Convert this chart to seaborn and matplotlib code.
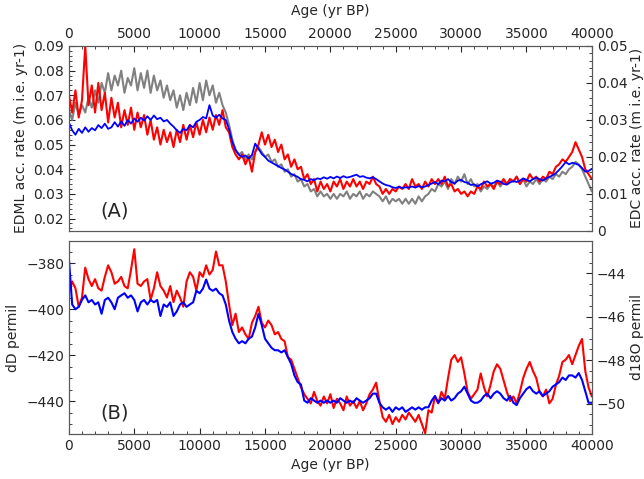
import numpy as np
import pandas as pd
import matplotlib
matplotlib.use('Agg')
import matplotlib.pyplot as plt
from matplotlib.ticker import AutoMinorLocator, MultipleLocator
import seaborn as sns

# ages in yr BP, 250 yr steps
age = np.arange(0, 40001, 250)

# EDML accumulation (left axis, m i.e. yr-1)
edml_acc = [
    0.070, 0.063, 0.072, 0.061, 0.068, 0.090, 0.066, 0.074,
    0.063, 0.075, 0.064, 0.071, 0.059, 0.069, 0.061, 0.067,
    0.057, 0.064, 0.058, 0.065, 0.056, 0.063, 0.057, 0.062,
    0.054, 0.060, 0.052, 0.057, 0.050, 0.056, 0.051, 0.055,
    0.049, 0.056, 0.051, 0.058, 0.052, 0.058, 0.053, 0.059,
    0.054, 0.060, 0.055, 0.061, 0.056, 0.062, 0.058, 0.064,
    0.057, 0.055, 0.049, 0.046, 0.044, 0.046, 0.042, 0.045,
    0.039, 0.047, 0.050, 0.055, 0.050, 0.054, 0.049, 0.052,
    0.047, 0.050, 0.044, 0.046, 0.041, 0.044, 0.040, 0.041,
    0.036, 0.038, 0.034, 0.036, 0.031, 0.035, 0.032, 0.034,
    0.031, 0.035, 0.033, 0.036, 0.032, 0.035, 0.033, 0.036,
    0.033, 0.035, 0.032, 0.035, 0.034, 0.037, 0.034, 0.033,
    0.030, 0.032, 0.030, 0.032, 0.031, 0.033, 0.032, 0.034,
    0.032, 0.036, 0.033, 0.034, 0.032, 0.035, 0.033, 0.036,
    0.034, 0.036, 0.034, 0.037, 0.033, 0.034, 0.031, 0.032,
    0.030, 0.031, 0.029, 0.031, 0.030, 0.033, 0.032, 0.035,
    0.033, 0.034, 0.032, 0.035, 0.034, 0.036, 0.034, 0.036,
    0.035, 0.037, 0.034, 0.036, 0.035, 0.038, 0.036, 0.037,
    0.035, 0.037, 0.036, 0.039, 0.038, 0.041, 0.042, 0.044,
    0.043, 0.045, 0.047, 0.051, 0.048, 0.045, 0.040, 0.038,
    0.036]

# second EDML accumulation record (grey, left axis)
edml_acc2 = [
    0.064, 0.060, 0.067, 0.062, 0.066, 0.063, 0.069, 0.065,
    0.072, 0.067, 0.075, 0.071, 0.079, 0.072, 0.078, 0.074,
    0.080, 0.071, 0.077, 0.074, 0.081, 0.072, 0.079, 0.073,
    0.080, 0.071, 0.078, 0.072, 0.076, 0.069, 0.074, 0.068,
    0.072, 0.065, 0.070, 0.064, 0.071, 0.066, 0.073, 0.067,
    0.075, 0.068, 0.076, 0.070, 0.074, 0.067, 0.071, 0.066,
    0.063, 0.058, 0.052, 0.048, 0.046, 0.047, 0.044, 0.046,
    0.044, 0.047, 0.049, 0.047, 0.045, 0.046, 0.043, 0.044,
    0.041, 0.042, 0.039, 0.040, 0.037, 0.038, 0.035, 0.036,
    0.033, 0.034, 0.031, 0.032, 0.029, 0.031, 0.029, 0.030,
    0.028, 0.030, 0.028, 0.030, 0.029, 0.031, 0.028, 0.030,
    0.029, 0.031, 0.028, 0.030, 0.029, 0.031, 0.030, 0.029,
    0.027, 0.029, 0.026, 0.028, 0.027, 0.028, 0.026, 0.028,
    0.026, 0.028, 0.026, 0.029, 0.027, 0.029, 0.030, 0.032,
    0.031, 0.034, 0.033, 0.035, 0.032, 0.036, 0.034, 0.037,
    0.035, 0.038, 0.034, 0.036, 0.033, 0.034, 0.031, 0.033,
    0.032, 0.034, 0.033, 0.035, 0.033, 0.035, 0.034, 0.036,
    0.035, 0.037, 0.034, 0.036, 0.033, 0.035, 0.034, 0.036,
    0.034, 0.036, 0.035, 0.037, 0.036, 0.038, 0.037, 0.039,
    0.038, 0.040, 0.041, 0.043, 0.042, 0.040, 0.037, 0.034,
    0.031]

# EDC accumulation (right axis)
edc_acc = [
    0.0293, 0.0272, 0.0260, 0.0276, 0.0265, 0.0280, 0.0268, 0.0278,
    0.0272, 0.0286, 0.0278, 0.0290, 0.0276, 0.0280, 0.0294, 0.0282,
    0.0296, 0.0284, 0.0300, 0.0290, 0.0304, 0.0295, 0.0306, 0.0298,
    0.0310, 0.0300, 0.0312, 0.0302, 0.0306, 0.0296, 0.0300, 0.0290,
    0.0282, 0.0272, 0.0265, 0.0276, 0.0272, 0.0286, 0.0280, 0.0295,
    0.0300, 0.0308, 0.0304, 0.0340, 0.0312, 0.0306, 0.0314, 0.0304,
    0.0300, 0.0275, 0.0240, 0.0218, 0.0206, 0.0200, 0.0204, 0.0196,
    0.0205, 0.0236, 0.0222, 0.0208, 0.0200, 0.0190, 0.0185, 0.0180,
    0.0175, 0.0170, 0.0166, 0.0160, 0.0154, 0.0150, 0.0146, 0.0140,
    0.0138, 0.0134, 0.0140, 0.0137, 0.0142, 0.0140, 0.0145, 0.0141,
    0.0146, 0.0142, 0.0147, 0.0143, 0.0148, 0.0144, 0.0146, 0.0149,
    0.0152, 0.0146, 0.0148, 0.0144, 0.0142, 0.0145, 0.0140, 0.0134,
    0.0128, 0.0124, 0.0122, 0.0118, 0.0116, 0.0119, 0.0116, 0.0118,
    0.0117, 0.0120, 0.0117, 0.0121, 0.0118, 0.0120, 0.0124, 0.0128,
    0.0132, 0.0126, 0.0136, 0.0134, 0.0140, 0.0132, 0.0128, 0.0136,
    0.0138, 0.0132, 0.0130, 0.0124, 0.0126, 0.0120, 0.0126, 0.0130,
    0.0134, 0.0128, 0.0130, 0.0136, 0.0133, 0.0127, 0.0125, 0.0131,
    0.0135, 0.0132, 0.0136, 0.0142, 0.0138, 0.0134, 0.0140, 0.0144,
    0.0140, 0.0136, 0.0142, 0.0146, 0.0150, 0.0156, 0.0165, 0.0175,
    0.0186, 0.0180, 0.0184, 0.0182, 0.0178, 0.0170, 0.0160, 0.0162,
    0.0168]

# dD (left axis, permil)
dD = [
    -393, -388, -391, -399, -395, -382, -387, -390,
    -387, -391, -392, -386, -381, -384, -389, -388,
    -386, -390, -391, -383, -374, -389, -390, -388,
    -387, -396, -391, -384, -390, -392, -395, -390,
    -397, -392, -395, -399, -388, -384, -386, -392,
    -384, -386, -381, -385, -383, -375, -381, -381,
    -388, -398, -407, -402, -410, -408, -411, -413,
    -406, -403, -399, -406, -408, -405, -407, -411,
    -410, -413, -414, -421, -422, -426, -430, -434,
    -437, -439, -441, -436, -440, -442, -438, -441,
    -437, -443, -439, -441, -444, -438, -442, -440,
    -443, -440, -444, -441, -437, -435, -432, -440,
    -447, -449, -446, -450, -447, -449, -446, -448,
    -445, -447, -449, -446, -450, -454, -444, -445,
    -438, -441, -436, -439, -430, -422, -420, -423,
    -421, -428, -436, -439, -437, -435, -428, -434,
    -438, -433, -427, -424, -426, -431, -436, -440,
    -438, -441, -436, -430, -426, -423, -427, -430,
    -436, -438, -435, -441, -439, -433, -429, -423,
    -422, -420, -424, -420, -416, -413, -427, -434,
    -438]

# d18O (right axis, permil)
d18O = [
    -43.33, -45.43, -45.65, -45.54, -45.22, -45.01, -45.33, -45.22,
    -45.43, -45.33, -45.86, -45.22, -45.12, -45.33, -45.65, -45.12,
    -45.01, -44.91, -45.12, -45.01, -45.22, -45.75, -45.33, -45.22,
    -45.43, -45.22, -45.33, -45.22, -45.96, -45.43, -45.54, -45.33,
    -45.96, -45.75, -45.43, -45.33, -45.54, -45.43, -45.33, -44.80,
    -44.91, -44.70, -44.28, -44.70, -44.80, -44.70, -44.91, -45.01,
    -45.43, -46.17, -46.70, -47.01, -47.22, -47.12, -47.22, -47.01,
    -46.91, -46.49, -45.86, -46.38, -47.01, -47.22, -47.43, -47.54,
    -47.54, -47.64, -47.54, -47.86, -48.17, -48.70, -49.01, -49.12,
    -49.86, -49.96, -49.75, -49.86, -49.96, -49.86, -49.96, -49.86,
    -49.96, -49.86, -49.96, -49.75, -49.86, -49.96, -49.86, -49.96,
    -49.75, -49.86, -49.96, -49.86, -49.75, -49.54, -49.54, -49.96,
    -50.17, -50.28, -50.17, -50.38, -50.17, -50.28, -50.17, -50.38,
    -50.28, -50.17, -50.28, -50.17, -50.28, -50.17, -50.17, -49.86,
    -49.65, -49.96, -49.75, -49.86, -49.65, -49.86, -49.75, -49.54,
    -49.43, -49.22, -49.54, -49.86, -49.96, -49.96, -49.86, -49.65,
    -49.54, -49.75, -49.54, -49.43, -49.54, -49.75, -49.86, -49.65,
    -49.96, -50.07, -49.75, -49.54, -49.33, -49.22, -49.43, -49.54,
    -49.43, -49.65, -49.54, -49.43, -49.22, -49.12, -49.01, -48.80,
    -48.91, -48.70, -48.70, -48.80, -48.59, -48.91, -49.43, -49.96,
    -49.96]

df = pd.DataFrame({'age': age, 'edml_acc': edml_acc, 'edml_acc2': edml_acc2,
                   'edc_acc': edc_acc, 'dD': dD, 'd18O': d18O})

sns.set_style('ticks')
plt.rcParams['font.family'] = ['DejaVu Sans']
plt.rcParams['font.size'] = 10
plt.rcParams['axes.edgecolor'] = '0.35'
plt.rcParams['xtick.direction'] = 'in'
plt.rcParams['ytick.direction'] = 'in'

fig = plt.figure(figsize=(6.44, 4.79), dpi=100)
ax1 = fig.add_axes([0.107, 0.518, 0.812, 0.386])
ax3 = fig.add_axes([0.107, 0.094, 0.812, 0.403])

# (A) accumulation rates
sns.lineplot(data=df, x='age', y='edml_acc2', ax=ax1, color='gray', lw=1.5)
sns.lineplot(data=df, x='age', y='edml_acc', ax=ax1, color='red', lw=1.5)
ax2 = ax1.twinx()
sns.lineplot(data=df, x='age', y='edc_acc', ax=ax2, color='blue', lw=1.3)

ax1.set_xlim(0, 40000)
ax1.set_ylim(0.015, 0.09)
ax2.set_ylim(0, 0.05)
ax1.xaxis.tick_top()
ax1.xaxis.set_label_position('top')
ax1.set_xlabel('Age (yr BP)', labelpad=9)
ax1.set_ylabel('EDML acc. rate (m i.e. yr-1)')
ax2.set_ylabel('EDC acc. rate (m i.e. yr-1)', labelpad=2)
ax1.yaxis.set_major_locator(MultipleLocator(0.01))
ax2.yaxis.set_major_locator(MultipleLocator(0.01))
ax2.set_yticks(ax2.get_yticks())
ax2.set_yticklabels(['0' if abs(t) < 1e-9 else f'{t:.2f}' for t in ax2.get_yticks()])
ax2.set_ylim(0, 0.05)
ax1.text(0.06, 0.08, '(A)', transform=ax1.transAxes, fontsize=14)

# (B) isotopes
sns.lineplot(data=df, x='age', y='dD', ax=ax3, color='red', lw=1.5)
ax4 = ax3.twinx()
sns.lineplot(data=df, x='age', y='d18O', ax=ax4, color='blue', lw=1.5)
ax3.set_xlim(0, 40000)
ax3.set_ylim(-454.3, -370.4)
ax4.set_ylim(-51.4, -42.5)
ax3.set_xlabel('Age (yr BP)')
ax3.set_ylabel('dD permil')
ax4.set_ylabel('d18O permil', labelpad=3)
ax3.yaxis.set_major_locator(MultipleLocator(20))
ax4.yaxis.set_major_locator(MultipleLocator(2))
ax3.text(0.06, 0.08, '(B)', transform=ax3.transAxes, fontsize=14)

for ax in (ax1, ax2, ax3, ax4):
    ax.xaxis.set_major_locator(MultipleLocator(5000))
    ax.xaxis.set_minor_locator(AutoMinorLocator())
    ax.yaxis.set_minor_locator(AutoMinorLocator())
    ax.tick_params(which='major', length=4)
    ax.tick_params(which='minor', length=2)

fig.savefig('out.png', dpi=100)
